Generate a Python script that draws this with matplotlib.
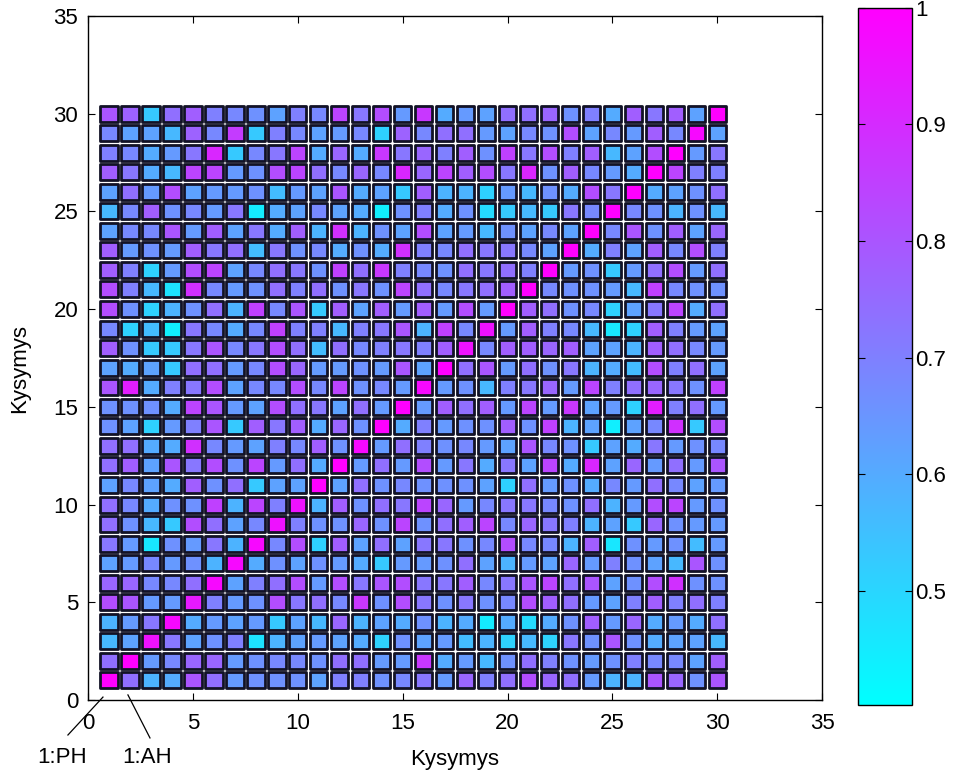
import numpy as np
import matplotlib
matplotlib.use("Agg")
import matplotlib.pyplot as plt
from matplotlib.patches import Rectangle
from matplotlib.collections import PatchCollection

plt.rcParams['font.family'] = ['Liberation Sans', 'DejaVu Sans']

# rows listed from row 30 (top) down to row 1 (bottom); columns 1..30
row30 = [0.80,0.77,0.53,0.74,0.78,0.70,0.68,0.66,0.62,0.70, 0.68,0.84,0.72,0.82,0.64,0.87,0.60,0.64,0.62,0.74, 0.74,0.76,0.66,0.70,0.60,0.78,0.72,0.78,0.62,1.00]
row29 = [0.68,0.62,0.62,0.57,0.77,0.68,0.86,0.53,0.70,0.68, 0.62,0.64,0.68,0.51,0.77,0.68,0.74,0.74,0.64,0.62, 0.68,0.66,0.82,0.62,0.68,0.64,0.78,0.68,0.98,0.62]
row28 = [0.70,0.68,0.60,0.64,0.72,0.91,0.53,0.68,0.72,0.84, 0.60,0.76,0.60,0.87,0.72,0.76,0.70,0.78,0.66,0.85, 0.72,0.82,0.70,0.78,0.57,0.62,0.82,1.00,0.64,0.72]
row27 = [0.78,0.72,0.60,0.57,0.84,0.84,0.64,0.66,0.82,0.84, 0.74,0.68,0.76,0.68,0.91,0.76,0.84,0.78,0.82,0.72, 0.91,0.66,0.78,0.68,0.64,0.60,1.00,0.84,0.70,0.70]
row26 = [0.62,0.74,0.64,0.82,0.62,0.64,0.64,0.66,0.56,0.64, 0.62,0.80,0.60,0.62,0.53,0.78,0.58,0.58,0.51,0.64, 0.57,0.66,0.60,0.82,0.72,1.00,0.60,0.62,0.66,0.74]
row25 = [0.57,0.68,0.78,0.66,0.68,0.64,0.72,0.45,0.60,0.62, 0.68,0.62,0.60,0.44,0.66,0.70,0.60,0.66,0.49,0.53, 0.57,0.53,0.72,0.68,1.00,0.68,0.66,0.58,0.66,0.57]
row24 = [0.62,0.68,0.68,0.80,0.64,0.78,0.62,0.72,0.60,0.78, 0.58,0.89,0.58,0.66,0.62,0.82,0.62,0.64,0.57,0.66, 0.62,0.68,0.62,1.00,0.68,0.80,0.66,0.78,0.62,0.76]
row23 = [0.78,0.64,0.66,0.64,0.78,0.72,0.74,0.56,0.72,0.66, 0.68,0.60,0.66,0.60,0.89,0.70,0.68,0.74,0.72,0.72, 0.68,0.62,1.00,0.60,0.70,0.62,0.78,0.68,0.82,0.70]
row22 = [0.78,0.70,0.51,0.64,0.82,0.84,0.62,0.68,0.74,0.72, 0.66,0.85,0.74,0.87,0.70,0.68,0.66,0.74,0.72,0.74, 0.70,1.00,0.64,0.66,0.53,0.64,0.74,0.82,0.64,0.74]
row21 = [0.82,0.70,0.57,0.47,0.89,0.68,0.64,0.66,0.74,0.70, 0.74,0.66,0.72,0.66,0.84,0.74,0.68,0.72,0.74,0.78, 1.00,0.68,0.66,0.66,0.64,0.57,0.85,0.68,0.66,0.66]
row20 = [0.82,0.66,0.51,0.58,0.66,0.74,0.58,0.85,0.68,0.80, 0.53,0.78,0.62,0.78,0.64,0.78,0.64,0.82,0.64,1.00, 0.78,0.74,0.66,0.68,0.51,0.62,0.72,0.84,0.60,0.74]
row19 = [0.68,0.51,0.56,0.44,0.72,0.68,0.60,0.68,0.85,0.70, 0.70,0.57,0.70,0.72,0.80,0.58,0.85,0.68,0.96,0.64, 0.78,0.70,0.68,0.57,0.46,0.51,0.78,0.70,0.64,0.62]
row18 = [0.78,0.66,0.53,0.53,0.72,0.80,0.68,0.72,0.82,0.74, 0.56,0.74,0.68,0.70,0.72,0.70,0.78,0.96,0.68,0.78, 0.78,0.76,0.78,0.62,0.62,0.58,0.78,0.74,0.68,0.64]
row17 = [0.62,0.60,0.62,0.53,0.74,0.74,0.64,0.68,0.82,0.76, 0.64,0.64,0.66,0.64,0.80,0.62,1.00,0.74,0.80,0.64, 0.74,0.66,0.72,0.58,0.60,0.56,0.82,0.70,0.74,0.62]
row16 = [0.80,0.93,0.60,0.70,0.72,0.82,0.62,0.68,0.68,0.82, 0.68,0.84,0.66,0.68,0.64,0.98,0.64,0.66,0.57,0.70, 0.72,0.76,0.64,0.84,0.70,0.74,0.76,0.72,0.66,0.85]
row15 = [0.66,0.66,0.66,0.60,0.84,0.80,0.64,0.62,0.82,0.74, 0.72,0.62,0.74,0.64,1.00,0.64,0.78,0.74,0.78,0.64, 0.84,0.64,0.87,0.62,0.64,0.51,0.93,0.70,0.74,0.64]
row14 = [0.66,0.62,0.51,0.64,0.70,0.80,0.53,0.78,0.72,0.78, 0.60,0.76,0.66,1.00,0.60,0.70,0.64,0.66,0.66,0.78, 0.66,0.85,0.58,0.62,0.44,0.62,0.68,0.89,0.53,0.82]
row13 = [0.74,0.74,0.60,0.60,0.89,0.68,0.64,0.62,0.70,0.68, 0.78,0.66,0.98,0.64,0.74,0.70,0.66,0.68,0.64,0.62, 0.80,0.68,0.66,0.53,0.62,0.60,0.72,0.64,0.66,0.68]
row12 = [0.74,0.78,0.62,0.80,0.72,0.82,0.66,0.84,0.64,0.74, 0.60,1.00,0.64,0.74,0.64,0.82,0.64,0.72,0.60,0.72, 0.62,0.84,0.60,0.91,0.62,0.76,0.64,0.74,0.64,0.80]
row11 = [0.62,0.68,0.62,0.60,0.78,0.66,0.74,0.53,0.62,0.62, 1.00,0.62,0.74,0.66,0.68,0.66,0.66,0.66,0.62,0.51, 0.74,0.64,0.66,0.60,0.68,0.64,0.74,0.68,0.62,0.64]
row10 = [0.74,0.68,0.60,0.66,0.66,0.85,0.58,0.84,0.70,0.96, 0.58,0.78,0.66,0.74,0.72,0.84,0.76,0.64,0.68,0.72, 0.72,0.68,0.66,0.74,0.58,0.64,0.82,0.84,0.64,0.66]
row9  = [0.74,0.66,0.57,0.53,0.82,0.74,0.62,0.68,0.96,0.70, 0.66,0.66,0.76,0.66,0.84,0.66,0.74,0.78,0.84,0.68, 0.76,0.72,0.70,0.58,0.62,0.53,0.76,0.66,0.64,0.64]
row8  = [0.72,0.64,0.46,0.66,0.64,0.72,0.58,0.98,0.68,0.82, 0.51,0.78,0.62,0.74,0.62,0.72,0.72,0.66,0.68,0.82, 0.68,0.68,0.58,0.78,0.46,0.66,0.64,0.66,0.56,0.64]
row7  = [0.62,0.64,0.68,0.64,0.66,0.58,0.98,0.60,0.66,0.62, 0.66,0.64,0.60,0.53,0.64,0.64,0.66,0.74,0.62,0.58, 0.64,0.62,0.76,0.64,0.70,0.66,0.62,0.57,0.80,0.66]
row6  = [0.76,0.76,0.68,0.68,0.74,0.98,0.62,0.70,0.74,0.82, 0.64,0.82,0.72,0.80,0.82,0.72,0.72,0.78,0.68,0.72, 0.80,0.84,0.74,0.80,0.62,0.66,0.82,0.89,0.66,0.66]
row5  = [0.82,0.80,0.64,0.64,0.94,0.70,0.64,0.66,0.82,0.72, 0.74,0.68,0.87,0.66,0.82,0.72,0.66,0.72,0.66,0.68, 0.82,0.78,0.74,0.64,0.62,0.70,0.78,0.70,0.74,0.70]
row4  = [0.58,0.64,0.72,0.98,0.60,0.64,0.62,0.64,0.53,0.62, 0.57,0.76,0.58,0.62,0.60,0.66,0.58,0.60,0.45,0.60, 0.49,0.60,0.66,0.78,0.64,0.76,0.60,0.64,0.60,0.74]
row3  = [0.57,0.62,0.96,0.72,0.62,0.66,0.70,0.47,0.58,0.62, 0.64,0.62,0.60,0.51,0.66,0.62,0.64,0.56,0.58,0.51, 0.57,0.51,0.72,0.66,0.80,0.66,0.60,0.62,0.62,0.57]
row2  = [0.74,1.00,0.64,0.68,0.76,0.76,0.64,0.66,0.68,0.68, 0.66,0.74,0.74,0.64,0.64,0.87,0.60,0.64,0.57,0.66, 0.74,0.70,0.66,0.64,0.66,0.70,0.68,0.68,0.62,0.78]
row1  = [1.00,0.74,0.58,0.60,0.80,0.74,0.64,0.66,0.66,0.66, 0.62,0.70,0.70,0.66,0.68,0.72,0.64,0.76,0.70,0.74, 0.82,0.76,0.74,0.64,0.58,0.58,0.80,0.76,0.66,0.80]

rows_top_down = [row30,row29,row28,row27,row26,row25,row24,row23,row22,row21,
                 row20,row19,row18,row17,row16,row15,row14,row13,row12,row11,
                 row10,row9,row8,row7,row6,row5,row4,row3,row2,row1]
values = np.array(rows_top_down[::-1])  # values[r-1, c-1]
n = values.shape[0]

ticks = [0, 5, 10, 15, 20, 25, 30, 35]
cbar_ticks = [0.5, 0.6, 0.7, 0.8, 0.9, 1.0]
cbar_labels = ['0.5', '0.6', '0.7', '0.8', '0.9', '1']
vmin, vmax = 0.402, 1.0
FS = 16

fig = plt.figure(figsize=(9.55, 7.74), dpi=100)
ax = fig.add_axes([0.092, 0.0956, 0.769, 0.884])

w, h = 0.84, 0.82
patches = []
vals = []
for r in range(n):
    for c in range(n):
        patches.append(Rectangle((c + 1 - w / 2, r + 1 - h / 2), w, h))
        vals.append(values[r, c])
pc = PatchCollection(patches, cmap='cool', edgecolor='#121226', linewidth=2.0)
pc.set_array(np.array(vals))
pc.set_clim(vmin, vmax)
ax.add_collection(pc)

ax.set_xlim(0, 35)
ax.set_ylim(0, 35)
ax.set_xticks(ticks)
ax.set_yticks(ticks)
ax.tick_params(direction='in', top=True, right=True, labelsize=FS, length=5)
ax.tick_params(axis='x', pad=9)
ax.tick_params(axis='y', pad=7)
for s in ax.spines.values():
    s.set_linewidth(1.0)
ax.set_xlabel('Kysymys', fontsize=FS)
ax.set_ylabel('Kysymys', fontsize=FS)
ax.xaxis.set_label_coords(0.5, -0.072)
ax.yaxis.set_label_coords(-0.079, 0.485)

# annotation texts and leader lines
ax.plot([-0.95, 0.72], [-1.79, 0.15], color='black', lw=0.9, clip_on=False)
ax.plot([2.96, 1.91], [-1.94, 0.26], color='black', lw=0.9, clip_on=False)
ax.text(-1.24, -2.92, '1:PH', ha='center', va='center', fontsize=FS, clip_on=False)
ax.text(2.84, -2.92, '1:AH', ha='center', va='center', fontsize=FS, clip_on=False)

cax = fig.add_axes([0.898, 0.089, 0.057, 0.901])
cb = fig.colorbar(pc, cax=cax, ticks=cbar_ticks)
cb.ax.set_yticklabels(cbar_labels)
cb.ax.tick_params(direction='in', left=True, right=True, labelsize=FS, length=5, pad=2)
cb.outline.set_linewidth(1.0)

fig.savefig('out.png', dpi=100)
